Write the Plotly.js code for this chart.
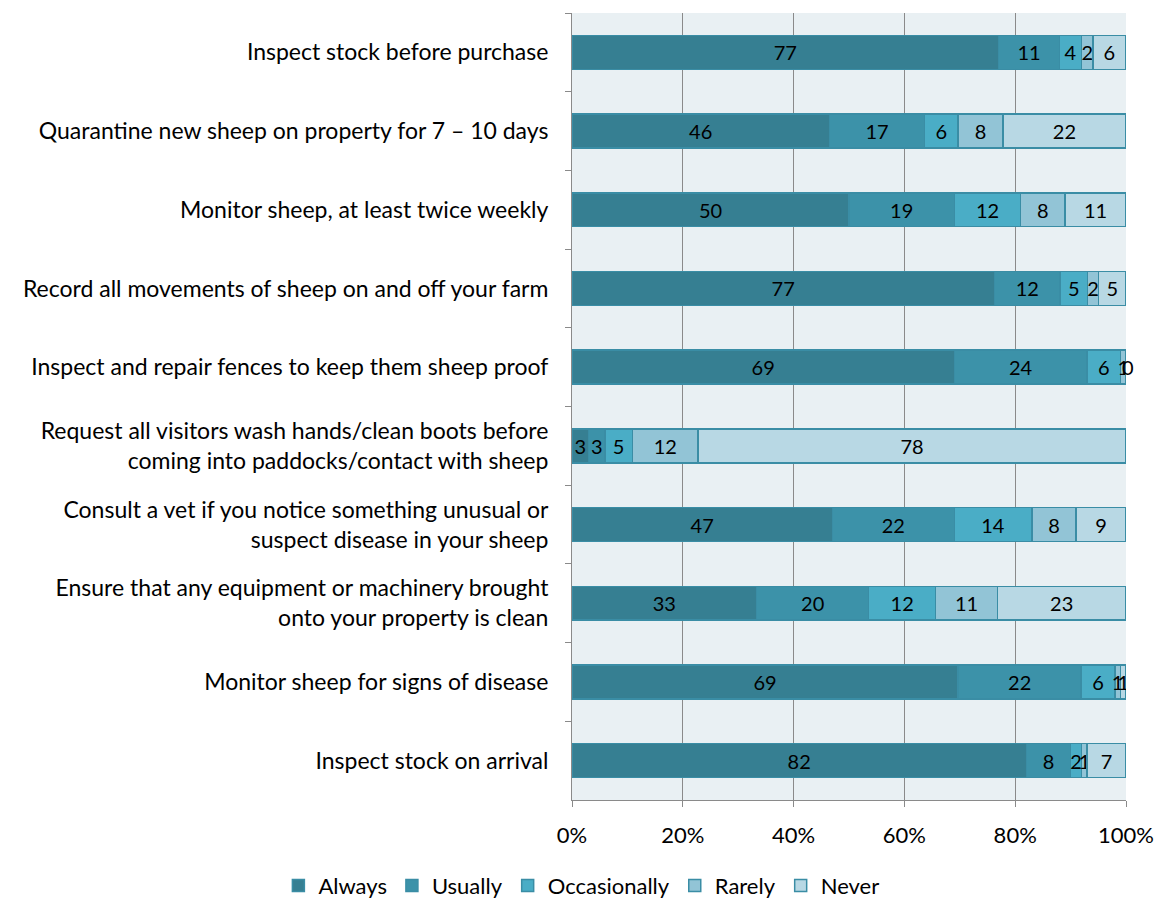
<!DOCTYPE html>
<html><head><meta charset="utf-8">
<script src="https://cdn.plot.ly/plotly-3.0.1.min.js"></script>
<style>html,body{margin:0;padding:0;background:#fff}#chart{width:1161px;height:898px}</style>
</head><body><div id="chart"></div>
<script>
const categories = [
  "Inspect stock before purchase",
  "Quarantine new sheep on property for 7 – 10 days",
  "Monitor sheep, at least twice weekly",
  "Record all movements of sheep on and off your farm",
  "Inspect and repair fences to keep them sheep proof",
  "Request all visitors wash hands/clean boots before<br>coming into paddocks/contact with sheep",
  "Consult a vet if you notice something unusual or<br>suspect disease in your sheep",
  "Ensure that any equipment or machinery brought<br>onto your property is clean",
  "Monitor sheep for signs of disease",
  "Inspect stock on arrival"
];
const always       = [77, 46, 50, 77, 69, 3, 47, 33, 69, 82];
const usually      = [11, 17, 19, 12, 24, 3, 22, 20, 22, 8];
const occasionally = [4, 6, 12, 5, 6, 5, 14, 12, 6, 2];
const rarely       = [2, 8, 8, 2, 1, 12, 8, 11, 1, 1];
const never        = [6, 22, 11, 5, 0, 78, 9, 23, 1, 7];
const seriesNames = ["Always", "Usually", "Occasionally", "Rarely", "Never"];
const seriesColors = ["#367F92", "#3C92A9", "#4AADC6", "#92C4D6", "#B8D8E4"];
const seriesData = [always, usually, occasionally, rarely, never];

const traces = seriesData.map((vals, i) => ({
  type: 'bar', orientation: 'h', name: seriesNames[i],
  y: categories, x: vals,
  text: vals.map(String), textposition: 'inside', insidetextanchor: 'middle',
  constraintext: 'none', textangle: 0,
  textfont: {family: 'Lato, sans-serif', size: 20, color: '#000'},
  marker: {color: seriesColors[i], line: {color: '#3A8DA5', width: 1.5}},
  hoverinfo: 'x+y'
}));

// labels for zero-width segments (Plotly does not draw text for them)
const annotations = [];
categories.forEach((cat, r) => {
  let total = 0, cum = 0;
  seriesData.forEach(s => total += s[r]);
  seriesData.forEach(s => {
    if (s[r] === 0) {
      annotations.push({x: cum / total * 100, y: cat, xref: 'x', yref: 'y',
        text: '0', showarrow: false, xshift: 2,
        font: {family: 'Lato, sans-serif', size: 20, color: '#000'}});
    }
    cum += s[r];
  });
});

const layout = {
  width: 1161, height: 898,
  barmode: 'stack', barnorm: 'percent', bargap: 0.57,
  margin: {l: 572, r: 35, t: 13, b: 98, autoexpand: false},
  plot_bgcolor: '#E9F0F3', paper_bgcolor: '#ffffff',
  font: {family: 'Lato, sans-serif', size: 23, color: '#000'},
  annotations: annotations,
  xaxis: {
    range: [0, 100], tickvals: [0, 20, 40, 60, 80, 100],
    ticktext: ['0%', '20%', '40%', '60%', '80%', '100%'],
    showgrid: true, gridcolor: '#8A8A8A', gridwidth: 1,
    zeroline: false, showline: true, linecolor: '#8A8A8A', linewidth: 1,
    ticks: 'outside', ticklen: 6, tickcolor: '#8A8A8A', ticklabelstandoff: 10,
    tickfont: {size: 22, color: '#000'}, fixedrange: true, automargin: false
  },
  yaxis: {
    autorange: 'reversed', ticks: 'outside', tickson: 'boundaries',
    ticklen: 6, tickcolor: '#8A8A8A', showline: true, linecolor: '#8A8A8A',
    linewidth: 1, showgrid: false, ticklabelstandoff: 18,
    tickfont: {size: 23, color: '#000'}, fixedrange: true, automargin: false
  },
  legend: {
    orientation: 'h', xref: 'paper', yref: 'paper',
    x: -0.53, xanchor: 'left', y: -0.109, yanchor: 'middle',
    font: {size: 22, color: '#000'}, traceorder: 'normal',
    itemwidth: 30, tracegroupgap: 0
  },
  showlegend: true
};
Plotly.newPlot('chart', traces, layout, {displayModeBar: false, staticPlot: true});
</script></body></html>
